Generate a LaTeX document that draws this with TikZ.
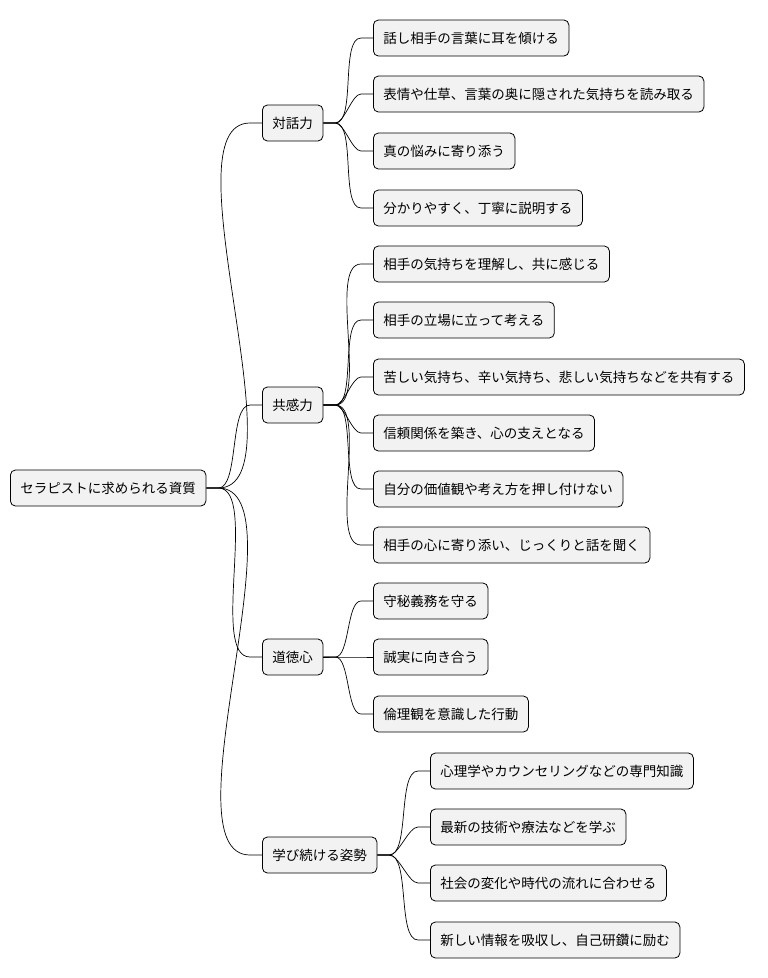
\documentclass[tikz,border=0pt]{standalone}
\usepackage{fontspec}
\setmainfont{Noto Sans CJK JP}
\usetikzlibrary{positioning}
\tikzset{
  topic/.style={draw=black,fill=gray!10,rounded corners=5pt,line width=0.8pt,
    minimum height=36pt,inner xsep=10pt,anchor=west,font=\fontsize{13.5}{15}\selectfont},
  link/.style={line width=0.7pt,out=0,in=180,looseness=0.6}
}
\begin{document}
\begin{tikzpicture}[x=1pt,y=-1pt]
  \useasboundingbox (0,0) rectangle (768,978);
  \node[topic] (root) at (10,488) {セラピストに求められる資質};
  \node[topic] (dialog) at (262,123) {対話力};
  \node[topic] (empathy) at (262,405) {共感力};
  \node[topic] (ethics) at (262,657) {道徳心};
  \node[topic] (learn) at (262,855) {学び続ける姿勢};

  \node[topic] (d1) at (373,38) {話し相手の言葉に耳を傾ける};
  \node[topic] (d2) at (373,94) {表情や仕草、言葉の奥に隠された気持ちを読み取る};
  \node[topic] (d3) at (373,151) {真の悩みに寄り添う};
  \node[topic] (d4) at (373,208) {分かりやすく、丁寧に説明する};

  \node[topic] (e1) at (373,264) {相手の気持ちを理解し、共に感じる};
  \node[topic] (e2) at (373,320) {相手の立場に立って考える};
  \node[topic] (e3) at (373,377) {苦しい気持ち、辛い気持ち、悲しい気持ちなどを共有する};
  \node[topic] (e4) at (373,433) {信頼関係を築き、心の支えとなる};
  \node[topic] (e5) at (373,489) {自分の価値観や考え方を押し付けない};
  \node[topic] (e6) at (373,545) {相手の心に寄り添い、じっくりと話を聞く};

  \node[topic] (m1) at (373,601) {守秘義務を守る};
  \node[topic] (m2) at (373,657) {誠実に向き合う};
  \node[topic] (m3) at (373,714) {倫理観を意識した行動};

  \node[topic] (l1) at (430,771) {心理学やカウンセリングなどの専門知識};
  \node[topic] (l2) at (430,827) {最新の技術や療法などを学ぶ};
  \node[topic] (l3) at (430,883) {社会の変化や時代の流れに合わせる};
  \node[topic] (l4) at (430,940) {新しい情報を吸収し、自己研鑽に励む};

  \foreach \c in {dialog,empathy,ethics,learn}
    \draw[line width=0.7pt] (root.east) -- ++(12,0) to[link] ([xshift=-12pt]\c.west) -- (\c.west);
  \foreach \c in {d1,d2,d3,d4}
    \draw[line width=0.7pt] (dialog.east) -- ++(12,0) to[link] ([xshift=-12pt]\c.west) -- (\c.west);
  \foreach \c in {e1,e2,e3,e4,e5,e6}
    \draw[line width=0.7pt] (empathy.east) -- ++(12,0) to[link] ([xshift=-12pt]\c.west) -- (\c.west);
  \foreach \c in {m1,m2,m3}
    \draw[line width=0.7pt] (ethics.east) -- ++(12,0) to[link] ([xshift=-12pt]\c.west) -- (\c.west);
  \foreach \c in {l1,l2,l3,l4}
    \draw[line width=0.7pt] (learn.east) -- ++(12,0) to[link] ([xshift=-12pt]\c.west) -- (\c.west);
\end{tikzpicture}
\end{document}
